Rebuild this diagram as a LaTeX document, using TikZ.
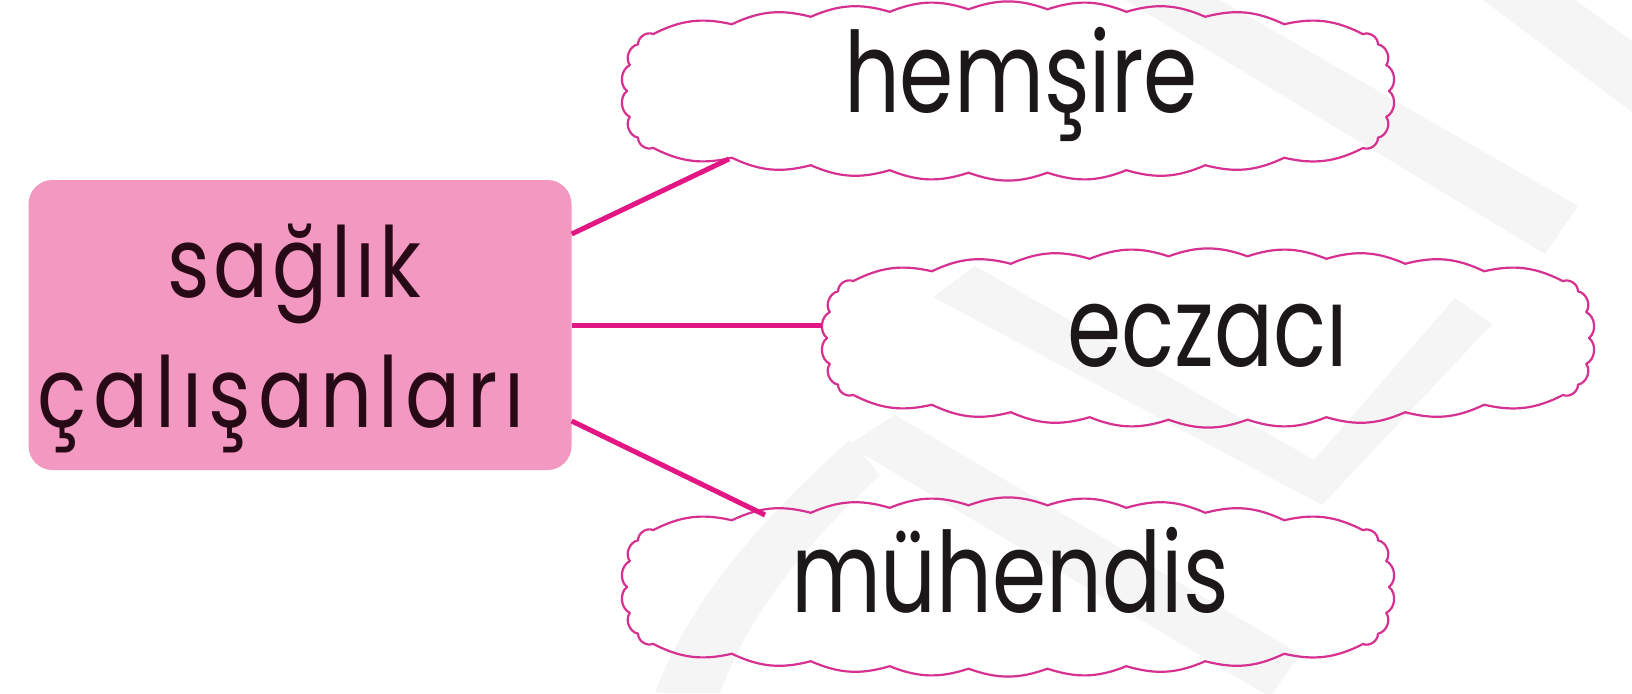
\documentclass[tikz,border=0pt]{standalone}
\usepackage{fontspec}
\setmainfont{Poppins}
\newfontfamily\cloudfont{Poppins}[FakeStretch=0.78]
\newfontfamily\rootfont{Poppins}[FakeStretch=0.83]
\usetikzlibrary{calc}
\definecolor{boxpink}{RGB}{243,152,193}
\definecolor{linemag}{RGB}{226,22,132}
\definecolor{cloudedge}{RGB}{214,48,144}
\definecolor{ink}{RGB}{28,24,26}
\definecolor{rootink}{RGB}{40,10,22}
\definecolor{wm}{RGB}{245,245,245}
\newcommand{\cloudoutline}[1]{%
  \draw[cloudline, shift={(#1.center)}] (-355,-56.8)
    \foreach \k in {1,...,9} { to[bend left=20] ({-355+78.889*\k}, {-82+2*((-355+78.889*\k)/100)^2}) }
    \foreach \a in {55,27,0,-27,-55,-90} { to[bend left=58] ({355+26*cos(\a)}, {-57*sin(\a)}) }
    \foreach \k in {1,...,9} { to[bend left=20] ({355-78.889*\k}, {82-2*((355-78.889*\k)/100)^2}) }
    \foreach \a in {235,207,180,153,125,90} { to[bend left=58] ({-355+26*cos(\a)}, {-57*sin(\a)}) }
    -- cycle;}
\begin{document}
\begin{tikzpicture}[x=1pt,y=-1pt,
  rootbox/.style={rectangle, rounded corners=24pt, fill=boxpink, minimum width=543pt, minimum height=290pt, inner sep=0pt},
  cloudarea/.style={rectangle, minimum width=772pt, minimum height=176pt, inner sep=0pt},
  cloudline/.style={draw=cloudedge, line width=2.2pt, line join=round},
  cloudtext/.style={font=\cloudfont\fontsize{112}{112}\selectfont, text=ink, anchor=base, inner sep=0pt},
  roottext/.style={font=\rootfont\fontsize{98}{98}\selectfont, text=rootink, anchor=base, inner sep=0pt},
  link/.style={draw=linemag, line width=5pt},
  watermark/.style={fill=wm}]
\useasboundingbox (0,0) rectangle (1632,693);
\fill[white] (0,0) rectangle (1632,693);
% faint watermark
\fill[watermark] (1125,0) -- (1220,0) -- (1578,206) -- (1545,254) -- cycle;
\fill[watermark] (1483,0) -- (1575,0) -- (1632,41) -- (1632,112) -- cycle;
\fill[watermark] (933,297) -- (975,266) -- (1314,460) -- (1455,298) -- (1492,324) -- (1322,505) -- cycle;
\fill[watermark] (848,445) -- (895,415) -- (1300,654) -- (1270,697) -- cycle;
\fill[watermark] (850,440) .. controls (760,520) and (690,600) .. (655,693) -- (720,693) .. controls (750,610) and (810,540) .. (880,475) -- cycle;
% root
\node[rootbox] (root) at (300,325) {};
\node[roottext] (r1) at (294,297) {{\addfontfeature{LetterSpace=4}sağlık}};
\node[roottext] (r2) at (281,427) {{\addfontfeature{LetterSpace=7}çalışanları}};
% clouds
\node[cloudarea] (c1) at (1008,91) {};
\node[cloudarea] (c2) at (1208,338) {};
\node[cloudarea] (c3) at (1008,587) {};
\cloudoutline{c1}
\cloudoutline{c2}
\cloudoutline{c3}
\node[cloudtext] (t1) at (1021,112) {hemşire};
\node[cloudtext] (t2) at (1208,366) {eczacı};
\node[cloudtext] (t3) at (1010,612) {mühendis};
% links
\draw[link] ([yshift=91pt]root.east) -- ($(c1.center)+(-279,68)$);
\draw[link] (root.east) -- (root.east -| c2.west);
\draw[link] ([yshift=-96pt]root.east) -- ($(c3.center)+(-243,-72)$);
\end{tikzpicture}
\end{document}
